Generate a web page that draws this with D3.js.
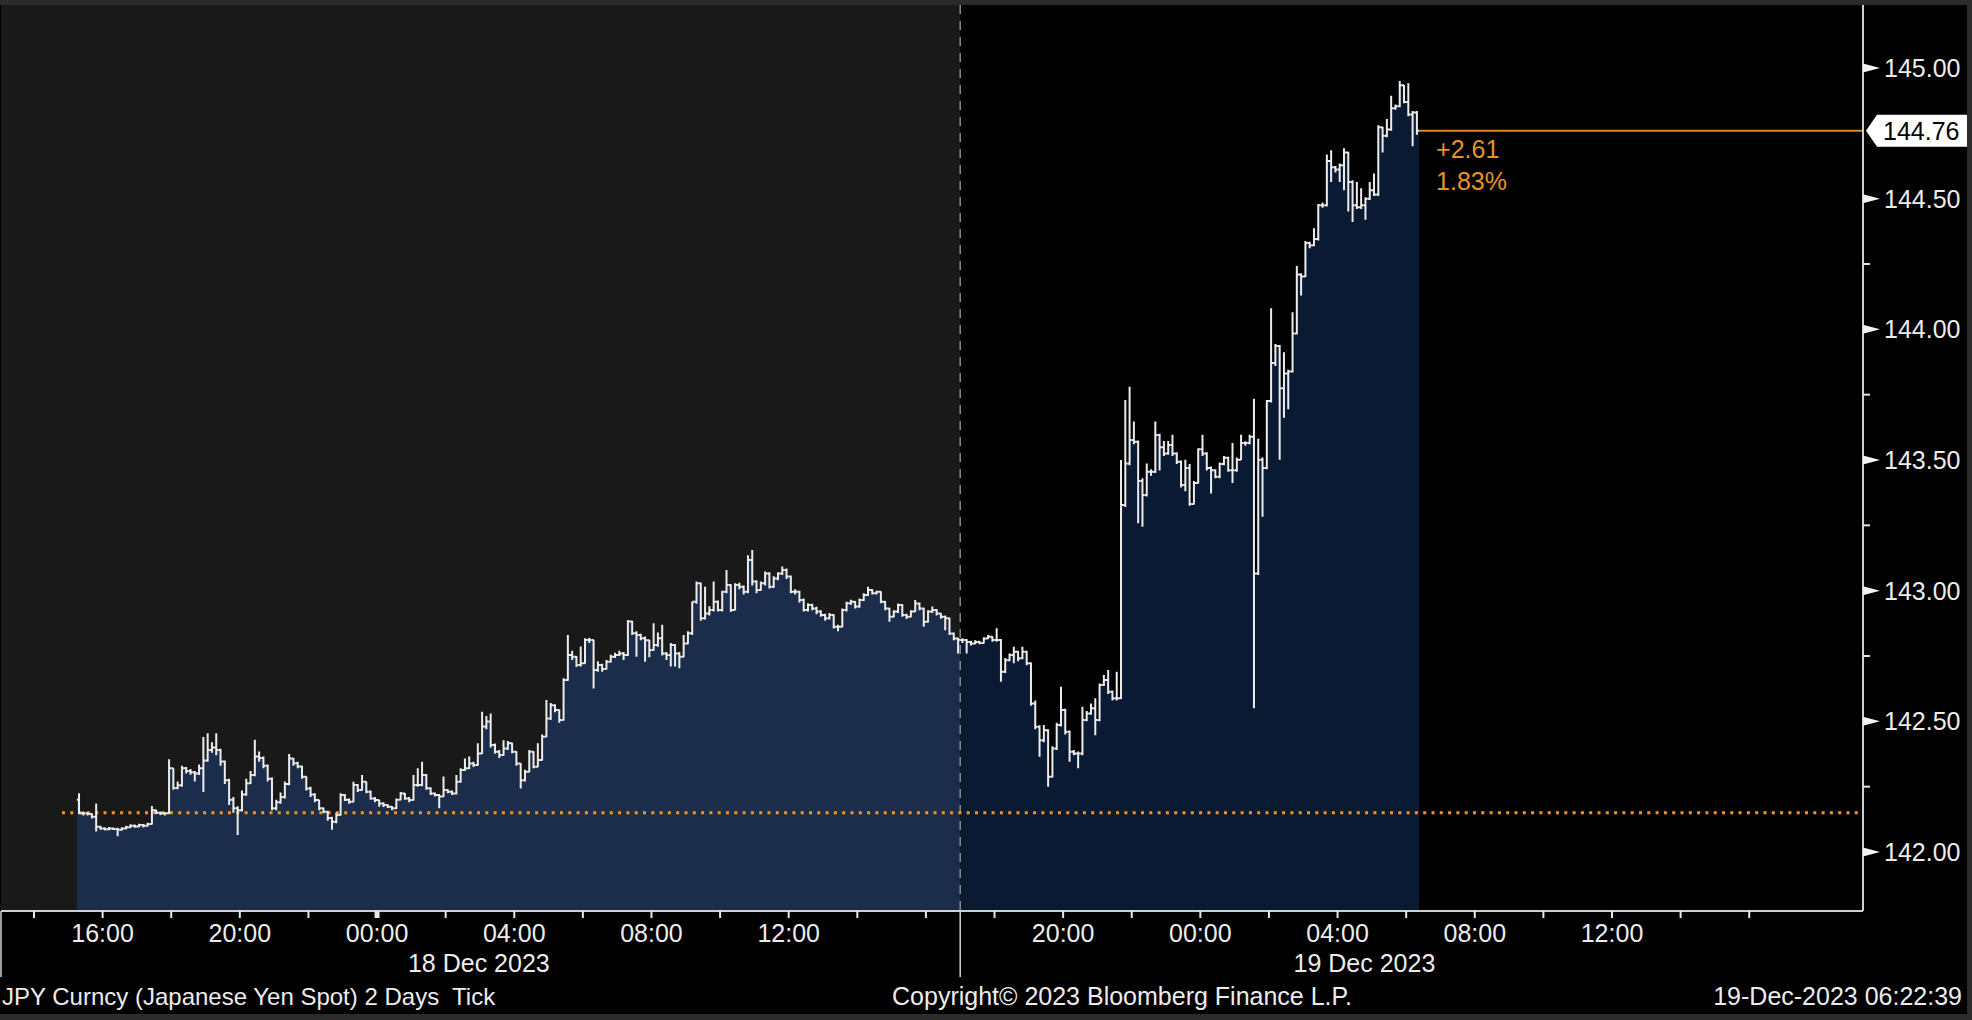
<!DOCTYPE html>
<html>
<head>
<meta charset="utf-8">
<script src="https://cdn.jsdelivr.net/npm/d3@7"></script>
<style>
html, body { margin: 0; padding: 0; background: #000; overflow: hidden; }
svg { display: block; }
text { font-family: "Liberation Sans", Arial, sans-serif; }
</style>
</head>
<body>
<svg id="chart" width="1972" height="1020"></svg>
<script>
// JPY spot, 7.5 minute bars, 17 Dec 15:15 -> 19 Dec 06:22
const firstBar = new Date(2023, 11, 17, 15, 15);
const barMinutes = 7.5;
const firstOpen = 142.20;
const prevClose = 142.15;
const lastPrice = 144.76;
const changeLabels = ["+2.61", "1.83%"];

const closes = [
  142.148,142.148,142.145,142.135,142.097,142.090,142.087,142.090,142.088,142.085,
  142.090,142.095,142.100,142.098,142.103,142.100,142.107,142.160,142.150,142.148,
  142.148,142.320,142.245,142.255,142.320,142.310,142.305,142.300,142.320,142.350,
  142.390,142.400,142.390,142.346,142.275,142.200,142.167,142.160,142.220,142.263,
  142.295,142.365,142.360,142.330,142.280,142.167,142.190,142.210,142.260,142.358,
  142.340,142.327,142.288,142.243,142.220,142.199,142.167,142.154,142.130,142.116,
  142.142,142.218,142.200,142.192,142.256,142.237,142.269,142.231,142.205,142.199,
  142.186,142.180,142.173,142.167,142.200,142.224,142.205,142.199,142.256,142.256,
  142.295,142.244,142.224,142.218,142.212,142.237,142.231,142.224,142.269,142.314,
  142.320,142.339,142.333,142.377,142.480,142.499,142.409,142.384,142.371,142.396,
  142.416,142.384,142.339,142.275,142.307,142.384,142.326,142.352,142.441,142.511,
  142.562,142.543,142.505,142.658,142.754,142.747,142.716,142.722,142.811,142.811,
  142.696,142.716,142.700,142.728,142.747,142.754,142.760,142.754,142.882,142.837,
  142.830,142.818,142.810,142.773,142.792,142.818,142.760,142.754,142.792,142.760,
  142.747,142.798,142.837,142.958,143.028,142.894,142.913,142.926,142.958,142.926,
  142.996,143.022,142.926,143.022,143.015,142.996,143.117,143.035,143.003,143.028,
  143.066,143.015,143.047,143.066,143.079,143.054,142.996,142.996,142.964,142.926,
  142.945,142.932,142.920,142.907,142.894,142.907,142.862,142.862,142.926,142.952,
  142.958,142.939,142.964,142.983,143.003,142.990,142.996,142.958,142.932,142.900,
  142.920,142.945,142.907,142.900,142.920,142.951,142.932,142.881,142.920,142.926,
  142.913,142.900,142.894,142.836,142.817,142.811,142.811,142.804,142.798,142.804,
  142.800,142.817,142.824,142.811,142.811,142.690,142.734,142.754,142.766,142.741,
  142.766,142.722,142.568,142.479,142.428,142.466,142.288,142.396,142.486,142.543,
  142.460,142.384,142.377,142.377,142.505,142.530,142.550,142.505,142.639,142.658,
  142.613,142.588,142.588,143.328,143.487,143.577,143.570,143.420,143.366,143.455,
  143.455,143.596,143.549,143.525,143.557,143.525,143.493,143.404,143.469,143.332,
  143.412,143.541,143.525,143.469,143.461,143.436,143.485,143.509,143.461,143.461,
  143.501,143.565,143.565,143.589,143.066,143.501,143.469,143.726,143.871,143.936,
  143.775,143.831,143.839,143.984,144.210,144.202,144.330,144.322,144.346,144.475,
  144.475,144.644,144.620,144.612,144.628,144.677,144.564,144.475,144.467,144.475,
  144.500,144.532,144.516,144.773,144.741,144.765,144.846,144.854,144.934,144.870,
  144.822,144.830,144.760
];

const highs = [
  142.225,142.155,142.152,142.148,142.186,142.100,142.095,142.096,142.094,142.093,
  142.095,142.100,142.106,142.105,142.108,142.107,142.112,142.176,142.162,142.155,
  142.152,142.355,142.320,142.270,142.330,142.325,142.318,142.310,142.335,142.440,
  142.454,142.420,142.454,142.395,142.350,142.280,142.210,142.175,142.235,142.280,
  142.310,142.430,142.385,142.365,142.335,142.285,142.200,142.228,142.270,142.375,
  142.360,142.345,142.330,142.290,142.250,142.225,142.200,142.170,142.158,142.135,
  142.150,142.225,142.222,142.205,142.269,142.260,142.295,142.270,142.235,142.210,
  142.200,142.190,142.183,142.176,142.205,142.230,142.226,142.210,142.295,142.320,
  142.345,142.298,142.248,142.228,142.222,142.289,142.240,142.235,142.295,142.320,
  142.358,142.365,142.345,142.416,142.537,142.520,142.530,142.415,142.390,142.428,
  142.425,142.418,142.386,142.340,142.315,142.390,142.386,142.416,142.450,142.582,
  142.570,142.565,142.545,142.665,142.830,142.770,142.750,142.786,142.818,142.820,
  142.812,142.730,142.720,142.735,142.755,142.762,142.770,142.765,142.888,142.885,
  142.845,142.835,142.825,142.812,142.875,142.840,142.870,142.765,142.800,142.795,
  142.765,142.830,142.845,142.958,143.035,143.030,143.015,142.940,143.035,142.962,
  143.000,143.079,143.025,143.028,143.030,143.020,143.136,143.156,143.040,143.035,
  143.073,143.070,143.055,143.070,143.092,143.085,143.058,143.005,143.000,142.970,
  142.952,142.950,142.938,142.925,142.912,142.915,142.910,142.870,142.932,142.958,
  142.965,142.960,142.970,142.990,143.015,143.005,143.000,142.998,142.960,142.935,
  142.925,142.951,142.948,142.912,142.925,142.964,142.955,142.935,142.925,142.939,
  142.930,142.915,142.905,142.896,142.840,142.820,142.818,142.815,142.808,142.810,
  142.808,142.822,142.830,142.826,142.856,142.815,142.742,142.760,142.785,142.770,
  142.785,142.770,142.725,142.580,142.485,142.486,142.470,142.405,142.495,142.632,
  142.548,142.465,142.390,142.385,142.556,142.540,142.568,142.588,142.645,142.677,
  142.696,142.618,142.690,143.500,143.730,143.780,143.647,143.575,143.430,143.487,
  143.465,143.647,143.600,143.573,143.573,143.597,143.530,143.498,143.501,143.485,
  143.420,143.545,143.597,143.530,143.475,143.465,143.490,143.515,143.512,143.565,
  143.510,143.597,143.572,143.597,143.734,143.581,143.510,143.730,144.081,143.944,
  143.940,143.912,143.845,144.065,144.242,144.215,144.338,144.335,144.387,144.480,
  144.485,144.669,144.685,144.625,144.635,144.693,144.680,144.570,144.564,144.540,
  144.505,144.564,144.596,144.781,144.775,144.805,144.894,144.860,144.950,144.935,
  144.942,144.835,144.835
];

const lows = [
  142.145,142.140,142.140,142.128,142.078,142.085,142.082,142.083,142.084,142.060,
  142.082,142.087,142.092,142.093,142.095,142.094,142.098,142.105,142.145,142.142,
  142.140,142.145,142.238,142.240,142.250,142.300,142.296,142.270,142.295,142.230,
  142.345,142.380,142.370,142.330,142.260,142.180,142.150,142.065,142.155,142.215,
  142.260,142.290,142.345,142.320,142.270,142.160,142.160,142.185,142.205,142.255,
  142.330,142.320,142.280,142.235,142.210,142.190,142.160,142.148,142.120,142.085,
  142.110,142.140,142.195,142.185,142.190,142.230,142.235,142.225,142.200,142.190,
  142.173,142.172,142.168,142.160,142.165,142.198,142.200,142.190,142.197,142.250,
  142.252,142.238,142.218,142.212,142.167,142.210,142.225,142.218,142.220,142.265,
  142.310,142.318,142.325,142.330,142.375,142.470,142.400,142.376,142.360,142.368,
  142.390,142.378,142.330,142.243,142.270,142.305,142.320,142.324,142.350,142.440,
  142.505,142.535,142.495,142.503,142.655,142.735,142.708,142.710,142.720,142.800,
  142.626,142.690,142.690,142.698,142.725,142.742,142.750,142.735,142.750,142.830,
  142.747,142.810,142.728,142.745,142.770,142.785,142.752,142.735,142.710,142.710,
  142.703,142.745,142.795,142.830,142.950,142.885,142.890,142.905,142.920,142.920,
  142.920,142.990,142.918,142.925,143.005,142.985,142.990,143.020,142.990,143.000,
  143.020,143.008,143.010,143.040,143.060,143.045,142.990,142.985,142.955,142.920,
  142.920,142.925,142.910,142.900,142.885,142.890,142.855,142.845,142.860,142.920,
  142.945,142.932,142.935,142.960,142.980,142.985,142.985,142.952,142.925,142.881,
  142.898,142.915,142.900,142.892,142.898,142.918,142.925,142.862,142.878,142.915,
  142.905,142.893,142.849,142.830,142.810,142.760,142.800,142.760,142.790,142.795,
  142.795,142.798,142.815,142.805,142.805,142.651,142.685,142.730,142.722,142.730,
  142.738,142.715,142.560,142.470,142.364,142.420,142.250,142.285,142.390,142.480,
  142.450,142.345,142.370,142.320,142.370,142.500,142.525,142.447,142.500,142.635,
  142.605,142.580,142.580,142.585,143.320,143.480,143.560,143.258,143.245,143.360,
  143.440,143.450,143.460,143.515,143.520,143.515,143.485,143.395,143.380,143.325,
  143.330,143.410,143.515,143.460,143.372,143.430,143.430,143.480,143.455,143.412,
  143.455,143.500,143.555,143.560,142.550,143.060,143.283,143.465,143.720,143.860,
  143.501,143.662,143.694,143.835,143.980,144.129,144.200,144.310,144.318,144.340,
  144.465,144.470,144.564,144.600,144.564,144.532,144.451,144.411,144.460,144.460,
  144.419,144.495,144.510,144.510,144.677,144.735,144.760,144.840,144.850,144.865,
  144.815,144.701,144.745
];

// axis
const yMajor = [142, 142.5, 143, 143.5, 144, 144.5, 145];
const yMinor = [142.25, 142.75, 143.25, 143.75, 144.25];
const tickStart = new Date(2023, 11, 17, 14, 0);
const tickEnd = new Date(2023, 11, 19, 16, 0);
const labelTimes = [
  new Date(2023, 11, 17, 16), new Date(2023, 11, 17, 20), new Date(2023, 11, 18, 0),
  new Date(2023, 11, 18, 4), new Date(2023, 11, 18, 8), new Date(2023, 11, 18, 12),
  new Date(2023, 11, 18, 20), new Date(2023, 11, 19, 0), new Date(2023, 11, 19, 4),
  new Date(2023, 11, 19, 8), new Date(2023, 11, 19, 12)
];
const dayMark = new Date(2023, 11, 18, 0);
const sessionBreak = new Date(2023, 11, 18, 17, 0);
const dayLabels = [
  { text: "18 Dec 2023", at: new Date(2023, 11, 18, 2, 58) },
  { text: "19 Dec 2023", at: new Date(2023, 11, 19, 4, 47) }
];
const footerLeft = "JPY Curncy (Japanese Yen Spot) 2 Days\u00a0 Tick";
const footerMid = "Copyright\u00a9 2023 Bloomberg Finance L.P.";
const footerRight = "19-Dec-2023 06:22:39";

const svg = d3.select("#chart");
const W = 1972, H = 1020;
const plot = { left: 1, top: 5, right: 1863, bottom: 911 };

const x = d3.scaleTime()
  .domain([new Date(2023, 11, 17, 14, 0), new Date(2023, 11, 19, 12, 0)])
  .range([34, 1612]);
const y = d3.scaleLinear().domain([142, 145]).range([852, 68]);

const barMs = barMinutes * 60000;
const bars = closes.map((c, i) => ({
  t: new Date(+firstBar + (i + 0.5) * barMs),
  o: i ? closes[i - 1] : firstOpen,
  h: highs[i], l: lows[i], c: c
}));
const hw = (x(new Date(+firstBar + barMs)) - x(firstBar)) / 2;
const divX = x(sessionBreak);

// frame
svg.append("rect").attr("width", W).attr("height", H).attr("fill", "#2b2b2b");
svg.append("rect").attr("x", 0).attr("y", 5).attr("width", 1967).attr("height", 1009).attr("fill", "#000");
svg.append("rect").attr("x", plot.left).attr("y", plot.top)
  .attr("width", divX - plot.left).attr("height", plot.bottom - plot.top).attr("fill", "#191919");

// area under the step line, split at the session break
const pts = bars.flatMap(b => [[x(b.t) - hw, b.o], [x(b.t), b.o], [x(b.t), b.c], [x(b.t) + hw, b.c]]);
const area = d3.area().x(d => d[0]).y0(plot.bottom).y1(d => y(d[1]));

const defs = svg.append("defs");
defs.append("clipPath").attr("id", "clipL").append("rect")
  .attr("x", 0).attr("y", 0).attr("width", divX).attr("height", H);
defs.append("clipPath").attr("id", "clipR").append("rect")
  .attr("x", divX).attr("y", 0).attr("width", W - divX).attr("height", H);

svg.append("path").attr("d", area(pts)).attr("fill", "#1b2d4a").attr("clip-path", "url(#clipL)");
svg.append("path").attr("d", area(pts)).attr("fill", "#0a1a33").attr("clip-path", "url(#clipR)");

// session divider
svg.append("line").attr("x1", divX).attr("x2", divX).attr("y1", plot.top).attr("y2", plot.bottom)
  .attr("stroke", "#8a8a8a").attr("stroke-width", 1.5).attr("stroke-dasharray", "9 7");
svg.append("line").attr("x1", divX).attr("x2", divX).attr("y1", plot.bottom).attr("y2", 977)
  .attr("stroke", "#d0d0d0").attr("stroke-width", 1.5);
svg.append("line").attr("x1", 1).attr("x2", 1).attr("y1", plot.bottom).attr("y2", 977)
  .attr("stroke", "#d0d0d0").attr("stroke-width", 1.5);

// previous close
svg.append("line").attr("x1", 62).attr("x2", plot.right - 3)
  .attr("y1", y(prevClose)).attr("y2", y(prevClose))
  .attr("stroke", "#f0961e").attr("stroke-width", 3).attr("stroke-dasharray", "3 5.3");

// bars
svg.append("g").selectAll("path").data(bars).join("path")
  .attr("d", b => {
    const cx = x(b.t);
    return `M${cx},${y(b.h)}V${y(b.l)}M${cx - hw},${y(b.o)}H${cx}M${cx},${y(b.c)}H${cx + hw}`;
  })
  .attr("fill", "none").attr("stroke", "#ececec").attr("stroke-width", 2);

// last price line
const lastX = x(bars[bars.length - 1].t) + hw;
svg.append("line").attr("x1", lastX).attr("x2", plot.right)
  .attr("y1", y(lastPrice)).attr("y2", y(lastPrice))
  .attr("stroke", "#d8892a").attr("stroke-width", 2);
svg.append("g").selectAll("text").data(changeLabels).join("text")
  .attr("x", lastX + 17).attr("y", (d, i) => y(lastPrice) + 27 + i * 32)
  .attr("fill", "#e8922a").attr("font-size", 25).text(d => d);

// axes lines
svg.append("line").attr("x1", plot.left).attr("x2", plot.right)
  .attr("y1", plot.bottom).attr("y2", plot.bottom).attr("stroke", "#cfcfcf").attr("stroke-width", 2);
svg.append("line").attr("x1", plot.right).attr("x2", plot.right)
  .attr("y1", plot.top).attr("y2", plot.bottom).attr("stroke", "#cfcfcf").attr("stroke-width", 2);

// y axis
const yAx = svg.append("g");
yAx.selectAll("path.maj").data(yMajor).join("path")
  .attr("d", v => `M${plot.right},${y(v) - 4.5}L${plot.right + 17},${y(v)}L${plot.right},${y(v) + 4.5}Z`)
  .attr("fill", "#f2f2f2");
yAx.selectAll("line.min").data(yMinor).join("line")
  .attr("x1", plot.right).attr("x2", plot.right + 7)
  .attr("y1", v => y(v)).attr("y2", v => y(v)).attr("stroke", "#e0e0e0").attr("stroke-width", 2);
yAx.selectAll("text").data(yMajor).join("text")
  .attr("x", plot.right + 21).attr("y", v => y(v) + 9)
  .attr("fill", "#ececec").attr("font-size", 25)
  .text(v => v.toFixed(2));

// price tag
const py = y(lastPrice);
svg.append("path")
  .attr("d", `M${plot.right + 3},${py}L${plot.right + 14},${py - 16}H1967V${py + 16}H${plot.right + 14}Z`)
  .attr("fill", "#fff");
svg.append("text").attr("x", plot.right + 20).attr("y", py + 9)
  .attr("fill", "#000").attr("font-size", 25).text(lastPrice.toFixed(2));

// x axis ticks
const ticks = d3.timeHour.every(2).range(tickStart, new Date(+tickEnd + 1));
svg.append("g").selectAll("line").data(ticks).join("line")
  .attr("x1", d => x(d)).attr("x2", d => x(d))
  .attr("y1", plot.bottom).attr("y2", plot.bottom + 7)
  .attr("stroke", "#e8e8e8")
  .attr("stroke-width", d => +d === +dayMark ? 5 : 2);
const fmt = d3.timeFormat("%H:%M");
svg.append("g").selectAll("text").data(labelTimes).join("text")
  .attr("x", d => x(d)).attr("y", 942).attr("text-anchor", "middle")
  .attr("fill", "#ececec").attr("font-size", 25).text(d => fmt(d));
svg.append("g").selectAll("text").data(dayLabels).join("text")
  .attr("x", d => x(d.at)).attr("y", 972).attr("text-anchor", "middle")
  .attr("fill", "#ececec").attr("font-size", 25).text(d => d.text);

// footer
svg.append("text").attr("x", 2).attr("y", 1005).attr("fill", "#ececec").attr("font-size", 24).text(footerLeft);
svg.append("text").attr("x", 1122).attr("y", 1005).attr("text-anchor", "middle")
  .attr("fill", "#ececec").attr("font-size", 25).text(footerMid);
svg.append("text").attr("x", 1962).attr("y", 1005).attr("text-anchor", "end")
  .attr("fill", "#ececec").attr("font-size", 25).text(footerRight);
</script>
</body>
</html>
